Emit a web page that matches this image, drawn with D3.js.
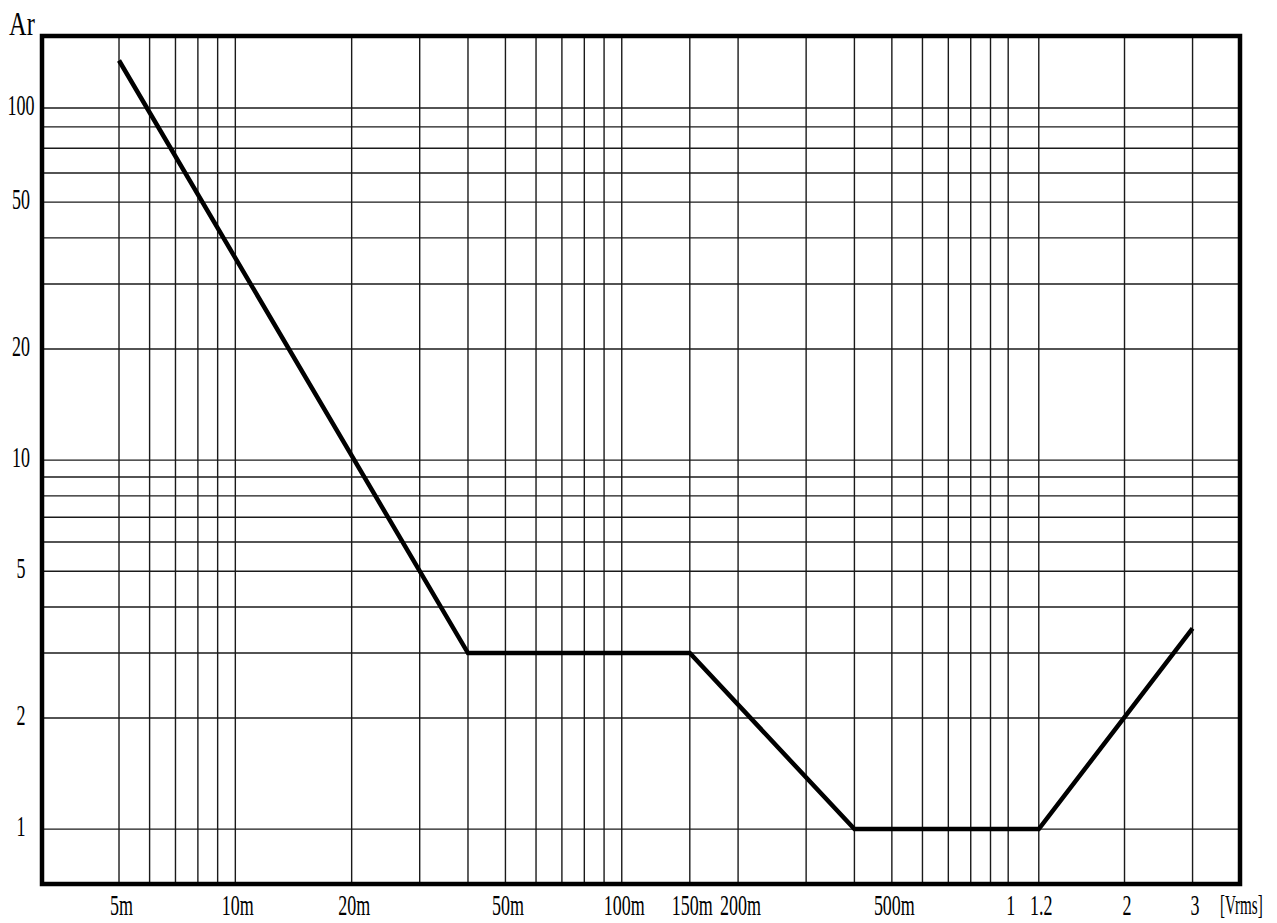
<!DOCTYPE html>
<html>
<head>
<meta charset="utf-8">
<script src="https://cdn.jsdelivr.net/npm/d3@7"></script>
<style>
  html, body { margin: 0; padding: 0; background: #fff; }
  svg { display: block; }
  text { font-family: "Liberation Serif", "DejaVu Serif", serif; fill: #000; }
</style>
</head>
<body>
<div id="chart"></div>
<script>
// grid lines (log paper)
const xGrid = [0.005, 0.006, 0.007, 0.008, 0.009, 0.01, 0.02, 0.03, 0.04, 0.05, 0.06, 0.07, 0.08, 0.09,
               0.1, 0.15, 0.2, 0.3, 0.4, 0.5, 0.6, 0.7, 0.8, 0.9, 1, 1.2, 2, 3];
const yGrid = [1, 2, 3, 4, 5, 6, 7, 8, 9, 10, 20, 30, 40, 50, 60, 70, 80, 90];

// tick labels
const xTickValues = [0.005, 0.01, 0.02, 0.05, 0.1, 0.15, 0.2, 0.5, 1, 1.2, 2, 3];
const xTickLabels = ["5m", "10m", "20m", "50m", "100m", "150m", "200m", "500m", "1", "1.2", "2", "3"];
const yTickValues = [1, 2, 5, 10, 20, 50, 90];
const yTickLabels = ["1", "2", "5", "10", "20", "50", "100"];

// curve
const curveVrms = [0.005, 0.04, 0.15, 0.4, 1.2, 3];
const curveAr = [121, 3, 3, 1, 1, 3.5];

const width = 1277, height = 923;
const margin = { top: 36, right: 37, bottom: 39, left: 42 };
const sx = 0.6; // narrow type

const svg = d3.select("#chart").append("svg")
  .attr("width", width)
  .attr("height", height);

const x = d3.scaleLog()
  .domain([0.00316, 3.98])
  .range([margin.left, width - margin.right]);

const y = d3.scaleLog()
  .domain([0.71, 141])
  .range([height - margin.bottom, margin.top]);

// grid
svg.append("g")
  .selectAll("line")
  .data(xGrid)
  .join("line")
  .attr("x1", d => x(d)).attr("x2", d => x(d))
  .attr("y1", margin.top).attr("y2", height - margin.bottom)
  .attr("stroke", "#1a1a1a")
  .attr("stroke-width", 1.4);

svg.append("g")
  .selectAll("line")
  .data(yGrid)
  .join("line")
  .attr("x1", margin.left).attr("x2", width - margin.right)
  .attr("y1", d => y(d)).attr("y2", d => y(d))
  .attr("stroke", "#1a1a1a")
  .attr("stroke-width", 1.4);

// eje X
const xAxis = svg.append("g")
  .attr("transform", `translate(0,${height - margin.bottom})`)
  .call(d3.axisBottom(x).tickValues(xTickValues).tickSize(0)
    .tickFormat((d, i) => xTickLabels[i]));
xAxis.select(".domain").remove();
xAxis.selectAll("text")
  .attr("y", 31).attr("dy", null)
  .attr("x", 2 / sx)
  .attr("transform", `scale(${sx},1)`)
  .style("font-size", "30px");

// eje Y
const yAxis = svg.append("g")
  .attr("transform", `translate(${margin.left},0)`)
  .call(d3.axisLeft(y).tickValues(yTickValues).tickSize(0)
    .tickFormat((d, i) => yTickLabels[i]));
yAxis.select(".domain").remove();
yAxis.selectAll("text")
  .attr("text-anchor", "middle")
  .attr("x", -21 / sx)
  .attr("dy", "0.22em")
  .attr("transform", `scale(${sx},1)`)
  .style("font-size", "30px");

// curve
const pts = curveVrms.map((v, i) => [v, curveAr[i]]);
svg.append("path")
  .datum(pts)
  .attr("fill", "none")
  .attr("stroke", "#000")
  .attr("stroke-width", 4.5)
  .attr("stroke-linejoin", "miter")
  .attr("d", d3.line().x(d => x(d[0])).y(d => y(d[1])));

// frame
svg.append("rect")
  .attr("x", margin.left).attr("y", margin.top)
  .attr("width", width - margin.left - margin.right)
  .attr("height", height - margin.top - margin.bottom)
  .attr("fill", "none")
  .attr("stroke", "#000")
  .attr("stroke-width", 4.5);

// unit labels
svg.append("text")
  .attr("transform", `translate(9,35) scale(0.74,1)`)
  .style("font-size", "33px")
  .text("Ar");

svg.append("text")
  .attr("transform", `translate(1220,914) scale(0.56,1)`)
  .style("font-size", "27px")
  .text("[Vrms]");
</script>
</body>
</html>
